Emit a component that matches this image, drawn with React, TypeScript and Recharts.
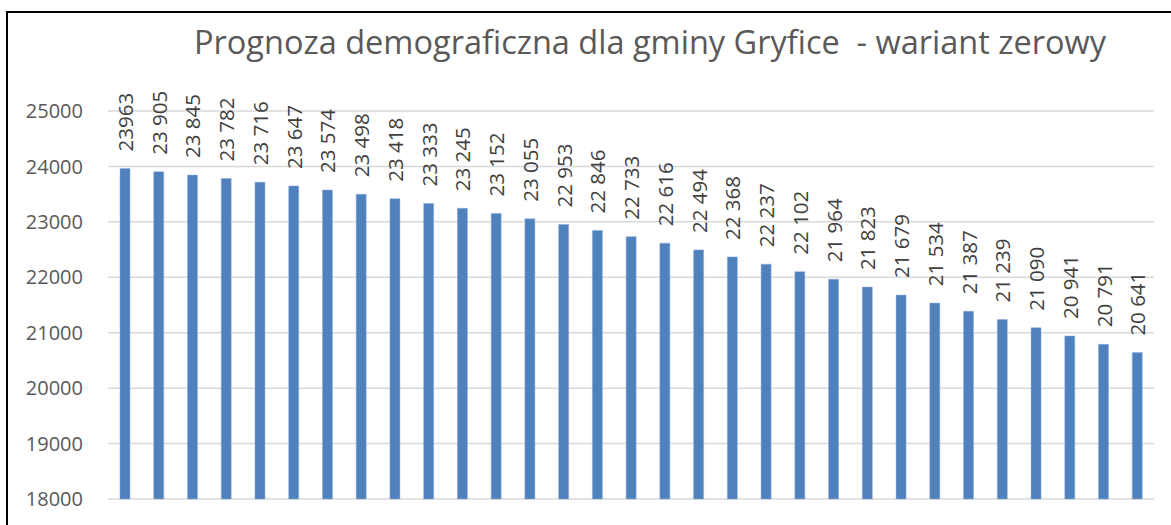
import React from 'react';
import { BarChart, Bar, XAxis, YAxis, CartesianGrid, LabelList } from 'recharts';

const years = [
  2020, 2021, 2022, 2023, 2024, 2025, 2026, 2027, 2028, 2029, 2030,
  2031, 2032, 2033, 2034, 2035, 2036, 2037, 2038, 2039, 2040,
  2041, 2042, 2043, 2044, 2045, 2046, 2047, 2048, 2049, 2050,
];
const population = [
  23963, 23905, 23845, 23782, 23716, 23647, 23574, 23498, 23418, 23333, 23245,
  23152, 23055, 22953, 22846, 22733, 22616, 22494, 22368, 22237, 22102,
  21964, 21823, 21679, 21534, 21387, 21239, 21090, 20941, 20791, 20641,
];
const yTicks = [18000, 19000, 20000, 21000, 22000, 23000, 24000, 25000];
const title = 'Prognoza demograficzna dla gminy Gryfice\u00a0\u00a0- wariant zerowy';

const data = years.map((y, i) => ({ year: String(y), value: population[i], idx: i }));

const fmt = (v: number, i: number) => {
  const s = String(v);
  if (i === 0) return s;
  return s.slice(0, s.length - 3) + ' ' + s.slice(s.length - 3);
};

const FONT = '"Open Sans", sans-serif';

const RotLabel = (props: any) => {
  const { x, y, width, value, index } = props;
  const cx = x + width / 2;
  const ty = y - 17;
  return (
    <text
      x={cx}
      y={ty}
      transform={`rotate(-90 ${cx} ${ty})`}
      textAnchor="start"
      dominantBaseline="central"
      fill="#404040"
      fontSize={20.5}
      fontFamily={FONT}
    >
      {fmt(value, index)}
    </text>
  );
};

export default function App() {
  return (
    <div style={{ position: 'absolute', left: 0, top: 0, width: 1171, height: 525, background: '#fff' }}>
      <div
        style={{
          position: 'absolute',
          left: 6,
          top: 11,
          width: 1165,
          height: 514,
          borderLeft: '2px solid #000',
          borderTop: '2px solid #000',
          boxSizing: 'border-box',
        }}
      />
      <div
        style={{
          position: 'absolute',
          left: 0,
          width: 1300,
          top: 20,
          textAlign: 'center',
          fontFamily: FONT,
          fontSize: 32.5,
          color: '#595959',
          lineHeight: '44px',
          whiteSpace: 'nowrap',
        }}
      >
        {title}
      </div>
      <div style={{ position: 'absolute', left: 0, top: 0 }}>
        <BarChart
          width={1171}
          height={525}
          data={data}
          margin={{ top: 111, right: 17, bottom: 26, left: 0 }}
          barCategoryGap={0}
        >
          <CartesianGrid vertical={false} stroke="#D9D9D9" strokeWidth={1.5} />
          <XAxis dataKey="year" hide />
          <YAxis
            width={108}
            domain={[18000, 25000]}
            ticks={yTicks}
            interval={0}
            axisLine={false}
            tickLine={false}
            tickSize={0}
            tickMargin={25}
            tick={{ fill: '#595959', fontSize: 20, fontFamily: FONT }}
          />
          <Bar dataKey="value" fill="#4F81BD" stroke="#8EAADB" strokeWidth={0.5} barSize={10} isAnimationActive={false}>
            <LabelList dataKey="value" content={<RotLabel />} />
          </Bar>
        </BarChart>
      </div>
    </div>
  );
}
